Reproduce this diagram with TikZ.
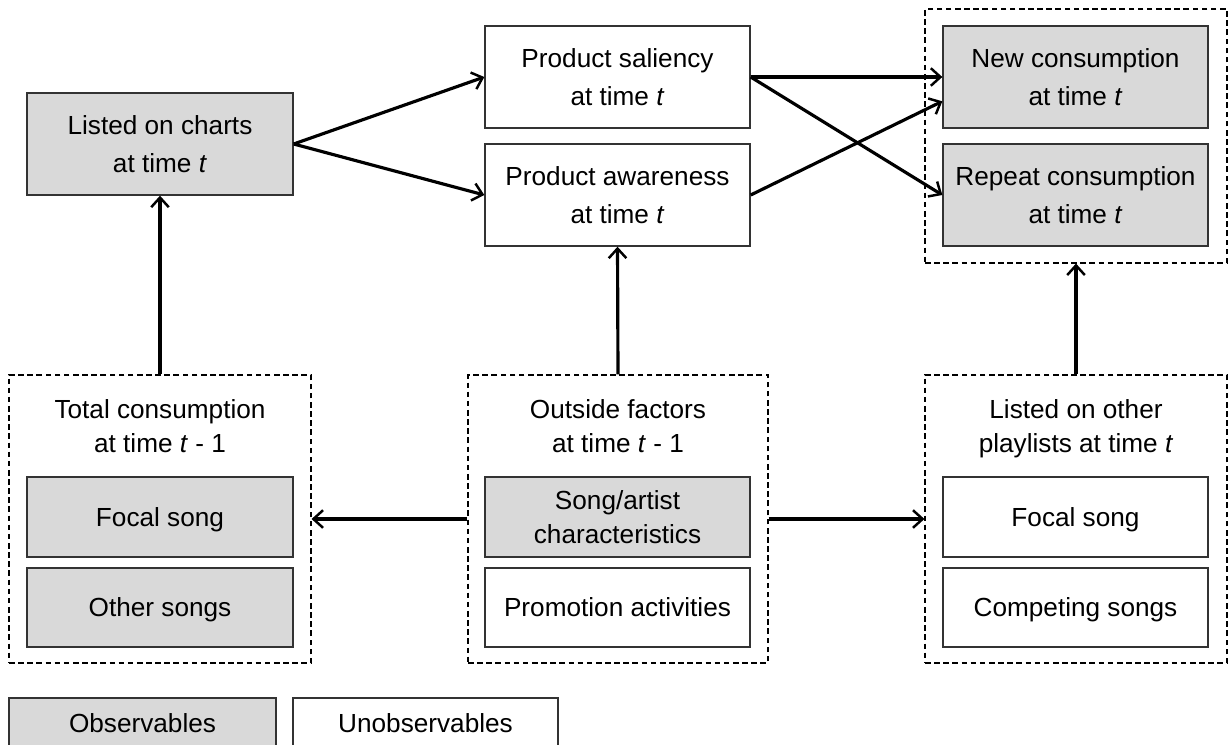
\documentclass[tikz,border=0pt]{standalone}
\usepackage{fontspec}
\setmainfont{Liberation Sans}
\usetikzlibrary{arrows.meta,calc}
\definecolor{boxgray}{HTML}{D9D9D9}
\definecolor{edgegray}{HTML}{333333}
\tikzset{
  txt/.style={font=\fontsize{14.9}{22}\selectfont, align=center, text=black},
  box/.style={txt, draw=edgegray, line width=0.8pt, inner sep=0pt},
  one/.style={text height=13.7pt, text depth=3pt},
  obs/.style={box, fill=boxgray},
  unobs/.style={box, fill=white},
  bigbox/.style={minimum width=5.3cm, minimum height=2.04cm},
  smallbox/.style={minimum width=5.3cm, minimum height=1.6cm},
  grp/.style={draw=black, line width=0.65pt, dash pattern=on 3.2pt off 2pt, inner sep=0pt},
  arr/.style={line width=1.8pt, -{Straight Barb[length=5.5pt,width=10pt,line width=1.4pt]}},
}
\begin{document}
\begin{tikzpicture}[x=0.02cm,y=-0.02cm]
\clip (0,0) rectangle (1230,744);
\fill[white] (0,0) rectangle (1230,744);
% top row
\node[obs, minimum width=5.32cm, minimum height=2.04cm] (charts) at (160,144) {Listed on charts\\at time \textit{t}};
\node[unobs, bigbox] (sal) at (617.5,77) {Product saliency\\at time \textit{t}};
\node[unobs, bigbox] (awa) at (617.5,195) {Product awareness\\at time \textit{t}};
\node[grp, minimum width=6.04cm, minimum height=5.08cm] (tr) at (1076,136) {};
\node[obs, bigbox] (new) at (1075.5,77) {New consumption\\at time \textit{t}};
\node[obs, bigbox] (rep) at (1075.5,195) {Repeat consumption\\at time \textit{t}};
% bottom groups
\node[grp, minimum width=6.04cm, minimum height=5.76cm] (ld) at (160,519) {};
\node[grp, minimum width=6.0cm, minimum height=5.76cm] (md) at (618,519) {};
\node[grp, minimum width=6.04cm, minimum height=5.76cm] (rd) at (1076,519) {};
\node[txt, font=\fontsize{14.9}{19.3}\selectfont] (ldt) at (160,426) {Total consumption\\at time \textit{t} - 1};
\node[txt, font=\fontsize{14.9}{19.3}\selectfont] (mdt) at (618,426) {Outside factors\\at time \textit{t} - 1};
\node[txt, font=\fontsize{14.9}{19.3}\selectfont] (rdt) at (1076,429) {Listed on other\\playlists at time \textit{t}};
\node[obs, one, minimum width=5.32cm, minimum height=1.6cm] (lf) at (160,517) {Focal song};
\node[obs, one, minimum width=5.32cm, minimum height=1.58cm] (lo) at (160,607.5) {Other songs};
\node[obs, smallbox, font=\fontsize{14.9}{19.3}\selectfont] (ms) at (617.5,517) {Song/artist\\characteristics};
\node[unobs, one, minimum width=5.3cm, minimum height=1.58cm] (mp) at (617.5,607.5) {Promotion activities};
\node[unobs, one, smallbox] (rf) at (1075.5,517) {Focal song};
\node[unobs, one, minimum width=5.3cm, minimum height=1.58cm] (rc) at (1075.5,607.5) {Competing songs};
% legend
\node[obs, one, minimum width=5.34cm, minimum height=1.0cm] (lgo) at (142.5,723) {Observables};
\node[unobs, one, minimum width=5.3cm, minimum height=1.0cm] (lgu) at (425.5,723) {Unobservables};
% connectors
\coordinate (newlow) at ($(new.west)!0.47!(new.south west)$);
\draw[arr] (ld.north) -- (charts.south);
\draw[arr] (charts.east) -- (sal.west);
\draw[arr] (charts.east) -- (awa.west);
\draw[arr] (sal.east) -- (new.west);
\draw[arr] (sal.east) -- (rep.west);
\draw[arr] (awa.east) -- (newlow);
\draw[arr] (md.north) -- (awa.south);
\draw[arr] (rd.north) -- (tr.south);
\draw[arr] (md.west) -- (ld.east);
\draw[arr] (md.east) -- (rd.west);
\end{tikzpicture}
\end{document}
